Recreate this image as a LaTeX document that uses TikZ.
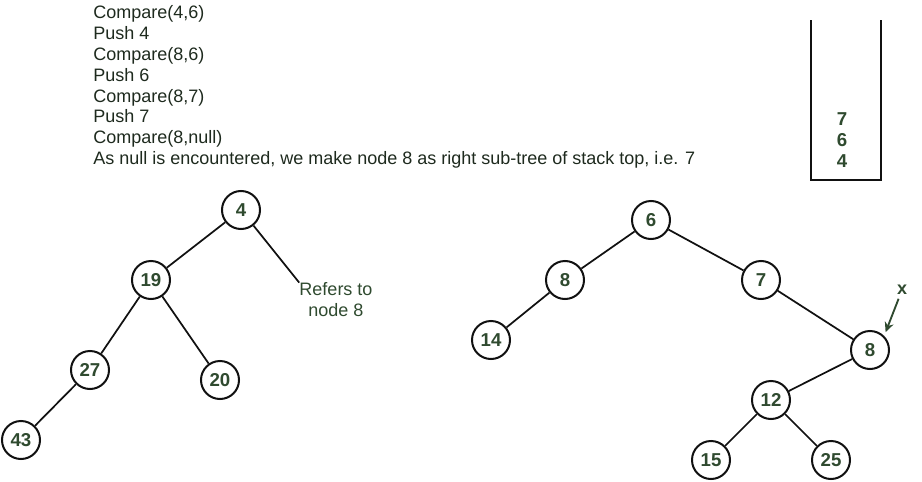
\documentclass[tikz,border=0pt]{standalone}
\usepackage{fontspec}
\setmainfont{Liberation Sans}
\usepackage{xcolor}
\definecolor{cText}{HTML}{1E2A1E}
\definecolor{cNode}{HTML}{2F4A2F}
\definecolor{cLine}{HTML}{111111}
\usetikzlibrary{arrows.meta}
\tikzset{
  node-key/.style={draw=cLine,line width=1.5pt,circle,minimum size=28.5pt,
    inner sep=0pt,fill=white,text=cNode,font=\fontsize{14}{16}\selectfont\bfseries},
  node-stack/.style={text=cNode,inner sep=0pt,font=\fontsize{14}{16}\selectfont\bfseries},
  node-note/.style={text=cNode,align=center,inner sep=0pt,font=\fontsize{13.5}{15.8}\selectfont},
  edge/.style={draw=cLine,line width=1.3pt},
  arrow-x/.style={-{Stealth[length=2.6mm,width=2.4mm]},line width=1.4pt,draw=cNode},
}
\begin{document}
\begin{tikzpicture}[x=0.75pt,y=-0.75pt]
  \useasboundingbox (0,0) rectangle (922,482);
  % steps
  \node[anchor=north west,align=left,inner sep=0pt,text=cText,
    font=\fontsize{13.5}{15.7}\selectfont] (steps) at (93,5)
    {Compare(4,6)\\Push 4\\Compare(8,6)\\Push 6\\Compare(8,7)\\Push 7\\Compare(8,null)\\
     As null is encountered, we make node 8 as right sub-tree of stack top, i.e. 7};
  % stack
  \draw[draw=cLine,line width=1.5pt] (811,20) -- (811,180) -- (881,180) -- (881,20);
  \node[node-stack] (s7) at (842,119) {7};
  \node[node-stack] (s6) at (842,140) {6};
  \node[node-stack] (s4) at (842,161) {4};
  % left tree
  \node[node-key] (a4)  at (241,210) {4};
  \node[node-key] (a19) at (151,280) {19};
  \node[node-key] (a27) at (90,370)  {27};
  \node[node-key] (a20) at (220,380) {20};
  \node[node-key] (a43) at (21,440)  {43};
  \node[node-note] (refer) at (336,300) {Refers to\\node 8};
  \draw[edge] (a4) -- (a19);
  \draw[edge] (a4) -- (refer.north west);
  \draw[edge] (a19) -- (a27);
  \draw[edge] (a19) -- (a20);
  \draw[edge] (a27) -- (a43);
  % right tree
  \node[node-key] (b6)  at (651,220) {6};
  \node[node-key] (b8)  at (565,280) {8};
  \node[node-key] (b7)  at (761,280) {7};
  \node[node-key] (b14) at (491,340) {14};
  \node[node-key] (b8r) at (870,350) {8};
  \node[node-key] (b12) at (771,400) {12};
  \node[node-key] (b15) at (711,460) {15};
  \node[node-key] (b25) at (831,460) {25};
  \draw[edge] (b6) -- (b8);
  \draw[edge] (b6) -- (b7);
  \draw[edge] (b8) -- (b14);
  \draw[edge] (b7) -- (b8r);
  \draw[edge] (b8r) -- (b12);
  \draw[edge] (b12) -- (b15);
  \draw[edge] (b12) -- (b25);
  \node[node-note,font=\fontsize{13.5}{15.8}\selectfont\bfseries] (xlab) at (902,290) {x};
  \draw[arrow-x,shorten <=3pt,shorten >=3pt] (xlab) -- (b8r.north east);
\end{tikzpicture}
\end{document}
